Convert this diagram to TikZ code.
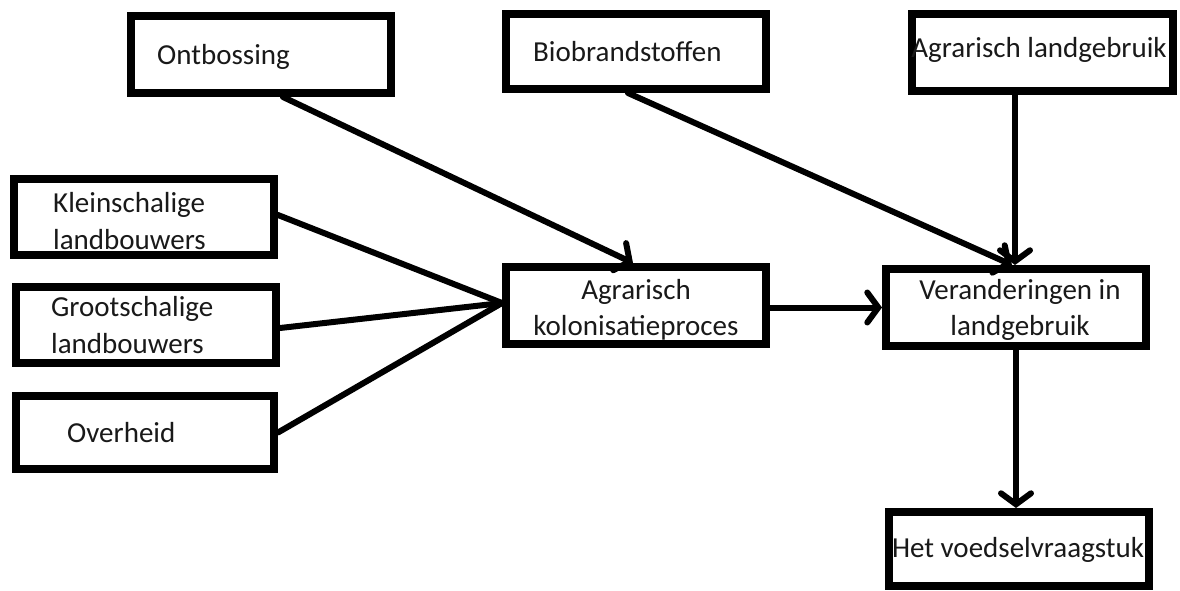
\documentclass[tikz,border=0pt]{standalone}
\usepackage{fontspec}
\setmainfont{Carlito}
\usetikzlibrary{arrows.meta}
\begin{document}
\begin{tikzpicture}[x=1pt,y=-1pt,
  box/.style={draw=black, line width=8pt, fill=white, inner sep=0pt},
  lbl/.style={inner sep=0pt, align=left, font=\fontsize{29}{36.5}\selectfont, text=black!90},
  clbl/.style={lbl, align=center},
  conn/.style={line width=6pt, line cap=round},
  arr/.style={conn, -{Straight Barb[length=11pt,width=30pt,line cap=round]}}
]
\useasboundingbox (0,0) rectangle (1180,590);
\fill[white] (0,0) rectangle (1180,590);
% boxes
\node[box, minimum width=260pt, minimum height=77pt] (ont) at (261,54.5) {};
\node[box, minimum width=260pt, minimum height=75pt] (bio) at (636,51.5) {};
\node[box, minimum width=261pt, minimum height=77pt] (agl) at (1042.5,52.5) {};
\node[box, minimum width=260pt, minimum height=76pt] (kl) at (144,217) {};
\node[box, minimum width=260pt, minimum height=76pt] (gr) at (146,325) {};
\node[box, minimum width=258pt, minimum height=73pt] (ov) at (145,432.5) {};
\node[box, minimum width=260pt, minimum height=77pt] (kol) at (636,305.5) {};
\node[box, minimum width=260pt, minimum height=77pt] (ver) at (1016,307.5) {};
\node[box, minimum width=260pt, minimum height=74pt] (hv) at (1019,549) {};
% texts
\node[lbl, anchor=west] (tont) at (157,57) {Ontbossing};
\node[lbl, anchor=west] (tbio) at (533,52) {Biobrandstoffen};
\node[lbl, anchor=center] (tagl) at (1039,50) {Agrarisch landgebruik};
\node[lbl, anchor=west] (tkl) at (53,221) {Kleinschalige\\landbouwers};
\node[lbl, anchor=west] (tgr) at (51,325) {Grootschalige\\landbouwers};
\node[lbl, anchor=west] (tov) at (67,433) {Overheid};
\node[clbl] (tkol) at (636,310) {Agrarisch\\kolonisatieproces};
\node[clbl] (tver) at (1020,310) {Veranderingen in\\landgebruik};
\node[lbl, anchor=center] (thv) at (1018,550) {Het voedselvraagstuk};
% connectors
\draw[arr] ([xshift=22pt]ont.south) -- ([xshift=-3pt]kol.north);
\draw[arr] ([xshift=-8pt]bio.south) -- ([xshift=-4pt]ver.north);
\draw[arr] ([xshift=-27.5pt]agl.south) -- ([xshift=-1pt]ver.north);
\draw[conn] ([yshift=2pt]kl.east) -- ([yshift=2.5pt]kol.west);
\draw[conn] ([yshift=-3pt]gr.east) -- ([yshift=2.5pt]kol.west);
\draw[conn] (ov.east) -- ([yshift=2.5pt]kol.west);
\draw[arr] ([yshift=-2pt]kol.east) -- (ver.west);
\draw[arr] (ver.south) -- ([xshift=-3pt]hv.north);
\end{tikzpicture}
\end{document}
